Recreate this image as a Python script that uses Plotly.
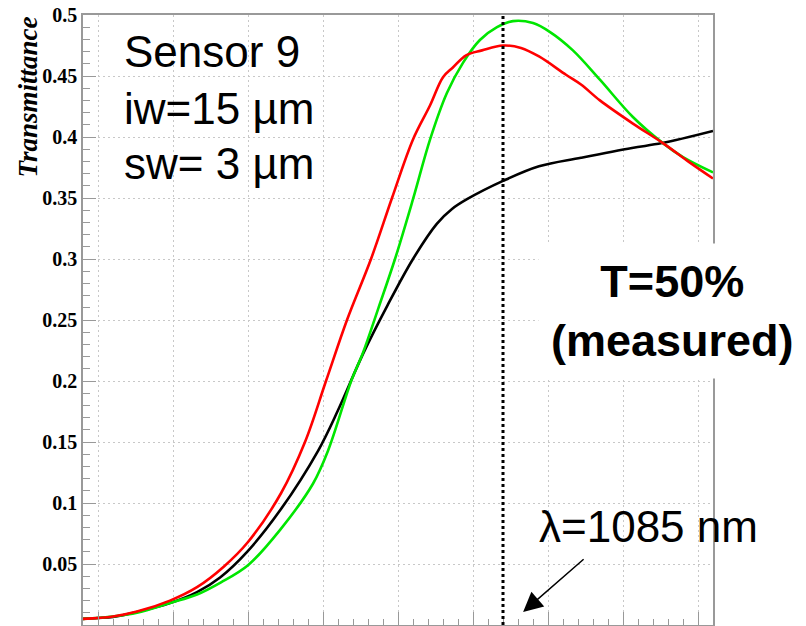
import plotly.graph_objects as go

# wavelength (nm) and transmittance
black_x = [945, 950, 955, 963, 974, 983, 990.7, 999.7, 1010.7, 1023.4, 1030, 1038.3, 1046.5, 1055, 1063, 1068, 1073, 1085, 1097, 1111, 1128, 1138, 1155]
black_y = [0.005, 0.0057, 0.0066, 0.0107, 0.018, 0.027, 0.039, 0.060, 0.094, 0.143, 0.176, 0.222, 0.262, 0.300, 0.329, 0.341, 0.349, 0.364, 0.376, 0.383, 0.391, 0.395, 0.405]

red_x = [945, 955, 963, 974, 983, 992, 1000, 1011, 1019, 1026, 1033, 1041, 1048, 1055, 1060.7, 1065, 1068.3, 1072.7, 1078, 1085, 1091, 1097, 1106, 1111, 1117.3, 1128.3, 1138.3, 1147.3, 1155]
red_y = [0.005, 0.007, 0.011, 0.020, 0.031, 0.048, 0.068, 0.108, 0.150, 0.200, 0.250, 0.300, 0.350, 0.398, 0.426, 0.449, 0.457, 0.467, 0.471, 0.475, 0.473, 0.466, 0.451, 0.443, 0.430, 0.411, 0.395, 0.379, 0.366]

green_x = [945, 955, 963, 974, 983, 991, 1000, 1010.7, 1021.7, 1026.7, 1034.4, 1038.3, 1043.5, 1049, 1055, 1060.7, 1066.3, 1071.7, 1077.3, 1083, 1088.3, 1095, 1100.7, 1108.3, 1117.3, 1128.3, 1138.3, 1145, 1155]
green_y = [0.005, 0.007, 0.010, 0.018, 0.025, 0.035, 0.049, 0.078, 0.116, 0.143, 0.200, 0.223, 0.260, 0.300, 0.349, 0.398, 0.436, 0.461, 0.4795, 0.490, 0.495, 0.4934, 0.486, 0.471, 0.447, 0.4164, 0.395, 0.3836, 0.371]

y_tickvals = [0, 0.05, 0.1, 0.15, 0.2, 0.25, 0.3, 0.35, 0.4, 0.45, 0.5]
y_ticktext = ["0", "0.05", "0.1", "0.15", "0.2", "0.25", "0.3", "0.35", "0.4", "0.45", "0.5"]

marker_wavelength = 1085

fig = go.Figure()
for xs, ys, col in [(black_x, black_y, "black"), (green_x, green_y, "#00e600"), (red_x, red_y, "#ff0000")]:
    fig.add_trace(go.Scatter(x=xs, y=ys, mode="lines",
                             line=dict(color=col, width=2.6, shape="spline", smoothing=1.0),
                             showlegend=False, hoverinfo="skip"))

fig.add_shape(type="line", xref="x", yref="paper", x0=marker_wavelength, x1=marker_wavelength,
              y0=0, y1=1, line=dict(color="black", width=3, dash="3px,3px"))

axis_common = dict(showline=True, linecolor="#999999", linewidth=1.5, mirror=True,
                   ticks="inside", tickcolor="#999999", ticklen=13, tickwidth=1,
                   showgrid=True, gridcolor="#c8c8c8", gridwidth=1, griddash="2px,3px",
                   zeroline=False, automargin=False)

fig.update_xaxes(range=[945, 1155], dtick=25, tick0=950, showticklabels=False,
                 minor=dict(ticks="inside", dtick=5, ticklen=6, tickcolor="#999999", showgrid=False),
                 **axis_common)
fig.update_yaxes(range=[0, 0.5], tickvals=y_tickvals, ticktext=y_ticktext,
                 tickfont=dict(family="Liberation Serif, Times New Roman, serif", size=20, color="black", weight="bold"),
                 minor=dict(ticks="inside", dtick=0.01, ticklen=7, tickcolor="#999999", showgrid=False),
                 **axis_common)

sans = "Liberation Sans, Arial, sans-serif"
H = 610.0
def py(p):
    return (625 - p) / H

annos = []
annos.append(dict(text="<b><i>Transmittance</i></b>", xref="paper", yref="paper",
                  x=(27 - 83) / 630.0, y=1.0, xanchor="center", yanchor="top", textangle=-90,
                  showarrow=False, font=dict(family="Liberation Serif, Times New Roman, serif", size=27, color="black")))
for txt, yc in [("Sensor 9", 53), ("iw=15 µm", 111), ("sw= 3 µm", 166)]:
    annos.append(dict(text=txt, xref="paper", yref="paper", x=(122 - 83) / 630.0, y=py(yc - 2),
                      xanchor="left", yanchor="middle", showarrow=False,
                      font=dict(family=sans, size=44, color="black")))
annos.append(dict(text="<b>T=50%</b><br><b>(measured)</b>", xref="paper", yref="paper",
                  x=(672 - 83) / 630.0, y=py(311), xanchor="center", yanchor="middle",
                  showarrow=False, bgcolor="white", borderpad=12, align="center",
                  font=dict(family=sans, size=45, color="black")))
annos.append(dict(text="λ=1085 nm", xref="paper", yref="paper",
                  x=(648 - 83) / 630.0, y=py(526), xanchor="center", yanchor="middle",
                  showarrow=False, font=dict(family=sans, size=44, color="black")))
annos.append(dict(text="", x=1091.7, y=0.0107, xref="x", yref="y", showarrow=True,
                  ax=62, ay=-54, arrowhead=2, arrowsize=2.6, arrowwidth=1.5, arrowcolor="black"))

fig.update_layout(width=806, height=626, margin=dict(l=83, r=93, t=15, b=1, autoexpand=False),
                  paper_bgcolor="white", plot_bgcolor="white", annotations=annos)

fig.write_html("out.html", config={"displayModeBar": False},
               post_script="document.body.style.margin='0px';")
